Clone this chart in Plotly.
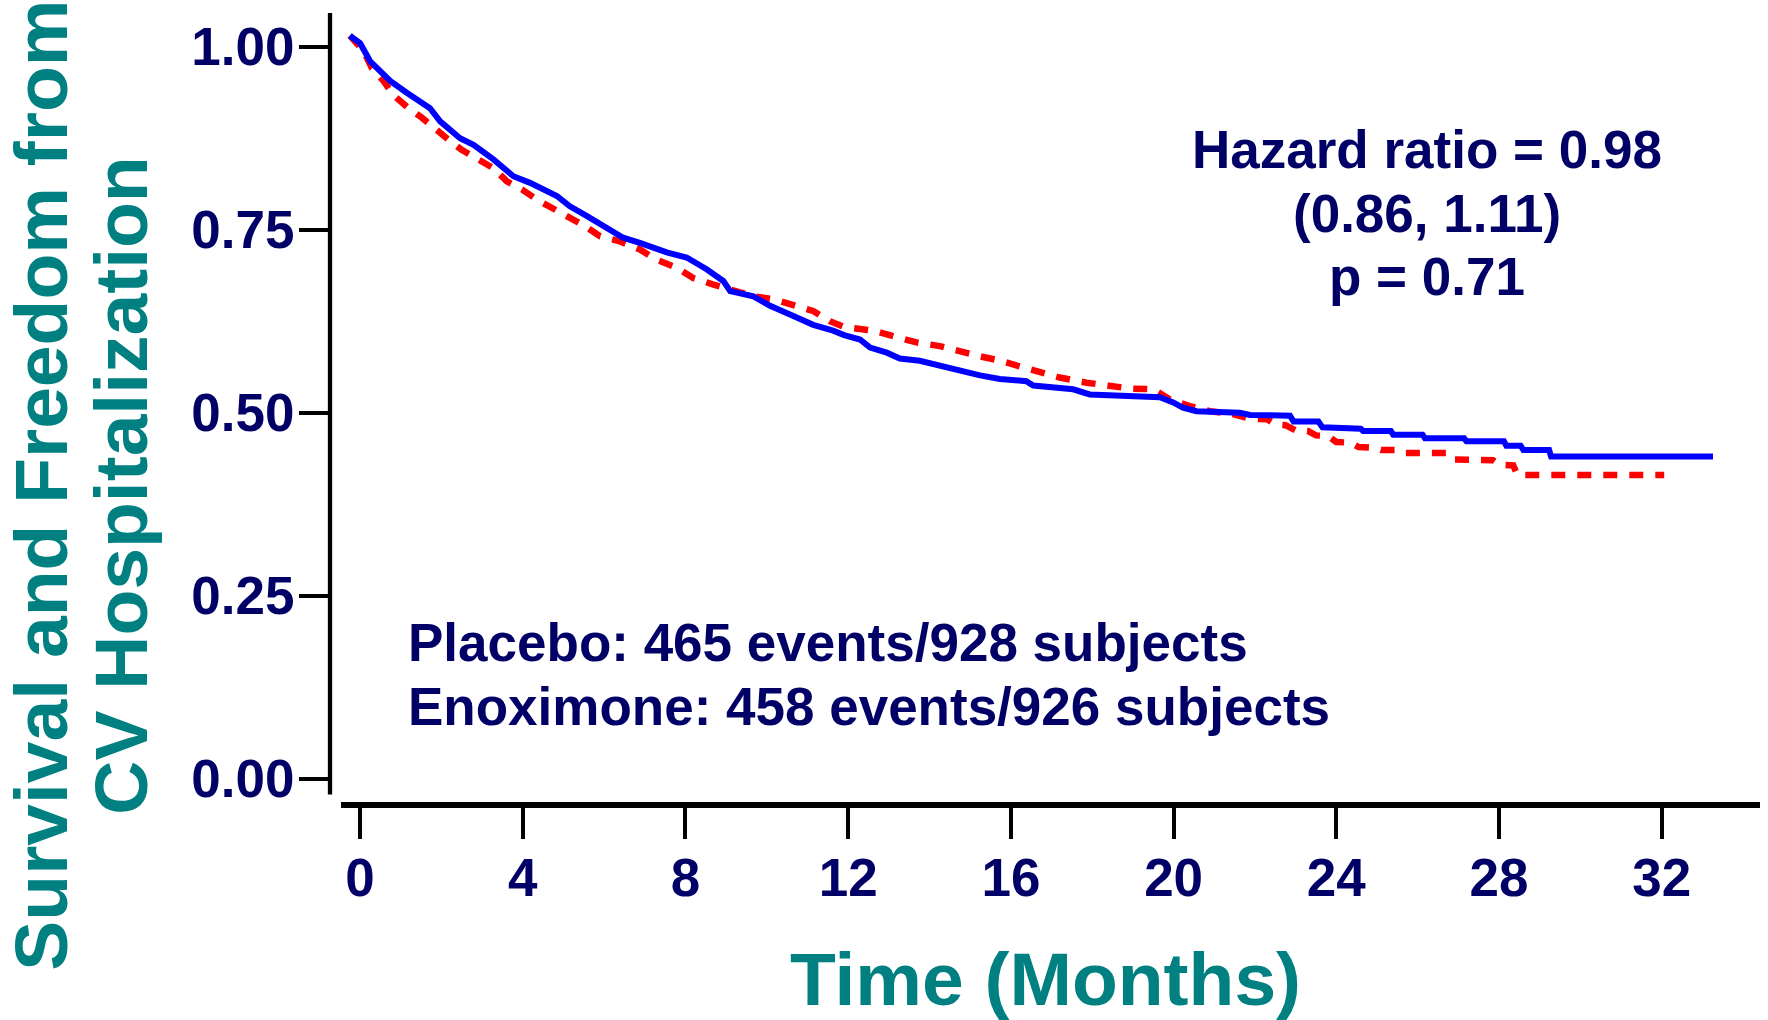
import plotly.graph_objects as go

# ---------------- data ----------------
enox_t = [-0.25, 0.0, 0.25, 0.75, 1.15, 1.72, 1.97, 2.46, 2.79, 3.28, 3.77, 4.18, 4.84, 5.16,
          5.57, 6.07, 6.47, 6.88, 7.54, 8.03, 8.52, 8.93, 9.10, 9.67, 10.08, 10.57, 11.14,
          11.63, 11.90, 12.29, 12.54, 12.95, 13.27, 13.76, 14.25, 14.67, 15.24, 15.73, 16.38,
          16.55, 17.53, 17.94, 18.92, 19.66, 19.99, 20.23, 20.56, 21.63, 21.88, 22.86, 22.95,
          23.56, 23.66, 24.02, 24.08, 24.60, 24.66, 25.34, 25.40, 26.12, 26.18, 27.14, 27.20,
          28.12, 28.18, 28.53, 28.60, 29.23, 29.28, 33.26]
enox_s = [1.015, 1.005, 0.980, 0.953, 0.937, 0.916, 0.898, 0.875, 0.866, 0.846, 0.823, 0.814,
          0.796, 0.782, 0.769, 0.753, 0.739, 0.732, 0.719, 0.712, 0.696, 0.680, 0.666, 0.659,
          0.646, 0.634, 0.620, 0.612, 0.606, 0.600, 0.589, 0.582, 0.574, 0.571, 0.564, 0.558,
          0.551, 0.546, 0.543, 0.537, 0.532, 0.525, 0.522, 0.521, 0.514, 0.507, 0.502, 0.500,
          0.497, 0.496, 0.488, 0.488, 0.480, 0.480, 0.478, 0.478, 0.475, 0.475, 0.470, 0.470,
          0.465, 0.465, 0.461, 0.461, 0.455, 0.455, 0.449, 0.449, 0.440, 0.440]

plac_t = [-0.25, 0.09, 0.29, 0.58, 0.82, 1.19, 1.52, 1.85, 2.13, 2.50, 2.87, 3.28, 3.61, 3.98,
          4.35, 4.71, 5.16, 5.53, 5.90, 6.39, 6.88, 7.29, 7.79, 8.19, 8.69, 9.18, 9.67, 10.16,
          10.65, 11.14, 11.55, 11.90, 12.62, 13.19, 13.68, 14.25, 14.74, 15.24, 15.73, 16.22,
          16.79, 17.20, 17.86, 18.35, 18.92, 19.50, 19.91, 20.40, 20.89, 21.46, 21.88, 22.30,
          22.50, 22.75, 23.00, 23.30, 23.50, 23.80, 24.00, 24.35, 24.55, 24.95, 25.10, 25.55,
          25.70, 26.70, 26.85, 27.85, 28.00, 28.35, 28.45, 32.06]
plac_s = [1.015, 0.994, 0.971, 0.953, 0.934, 0.916, 0.903, 0.887, 0.875, 0.859, 0.846, 0.834,
          0.816, 0.805, 0.791, 0.780, 0.768, 0.755, 0.741, 0.734, 0.723, 0.709, 0.698, 0.684,
          0.675, 0.666, 0.659, 0.655, 0.648, 0.639, 0.625, 0.617, 0.612, 0.603, 0.596, 0.591,
          0.583, 0.577, 0.571, 0.564, 0.555, 0.548, 0.541, 0.538, 0.533, 0.532, 0.518, 0.509,
          0.502, 0.498, 0.492, 0.491, 0.484, 0.483, 0.476, 0.475, 0.469, 0.468, 0.460, 0.459,
          0.453, 0.452, 0.449, 0.449, 0.445, 0.445, 0.436, 0.435, 0.429, 0.428, 0.415, 0.415]

x_ticks = [0, 4, 8, 12, 16, 20, 24, 28, 32]
y_ticks = [0.00, 0.25, 0.50, 0.75, 1.00]
y_tick_labels = ["0.00", "0.25", "0.50", "0.75", "1.00"]

hr_lines = ["Hazard ratio = 0.98", "(0.86, 1.11)", "p = 0.71"]
count_lines = ["Placebo: 465 events/928 subjects", "Enoximone: 458 events/926 subjects"]
y_title_lines = ["Survival and Freedom from", "CV Hospitalization"]
x_title = "Time (Months)"

# ---------------- layout geometry ----------------
W, H = 1768, 1020
L, R = 330, 1760          # plot area left / right (px)
T, B = 13, 805.5          # plot area top / bottom (px)
NAVY = "#000066"
TEAL = "#008080"
FONT = "Liberation Sans, Arial, sans-serif"


def px(xp):
    return (xp - L) / (R - L)


def py(yp):
    return (B - yp) / (B - T)


fig = go.Figure()
fig.add_trace(go.Scatter(x=plac_t, y=plac_s, mode="lines", name="Placebo",
                         line=dict(color="#FF0000", width=6.5, dash="14px,12px")))
fig.add_trace(go.Scatter(x=enox_t, y=enox_s, mode="lines", name="Enoximone",
                         line=dict(color="#0000FF", width=6)))

annotations = []
for i, t in enumerate(hr_lines):
    annotations.append(dict(text=t, x=px(1427), y=py(150 + 63.4 * i), xref="paper", yref="paper",
                            xanchor="center", yanchor="middle", showarrow=False,
                            font=dict(family=FONT, size=53, color=NAVY, weight="bold")))
for i, t in enumerate(count_lines):
    annotations.append(dict(text=t, x=px(406), y=py(643.3 + 63.3 * i), xref="paper", yref="paper",
                            xanchor="left", yanchor="middle", showarrow=False,
                            font=dict(family=FONT, size=53, color=NAVY, weight="bold")))
for i, t in enumerate(y_title_lines):
    annotations.append(dict(text=t, x=px(41 + 80 * i), y=py(486), xref="paper", yref="paper",
                            xanchor="center", yanchor="middle", showarrow=False, textangle=-90,
                            font=dict(family=FONT, size=75, color=TEAL, weight="bold")))
annotations.append(dict(text=x_title, x=px(1045), y=py(979.4), xref="paper", yref="paper",
                        xanchor="center", yanchor="middle", showarrow=False,
                        font=dict(family=FONT, size=75, color=TEAL, weight="bold")))

shapes = [
    dict(type="line", xref="paper", yref="paper", x0=0, x1=0, y0=py(795), y1=py(13),
         line=dict(color="black", width=4.3)),
    dict(type="line", xref="paper", yref="paper", x0=px(341), x1=px(1760), y0=0, y1=0,
         line=dict(color="black", width=6)),
]

fig.update_layout(
    width=W, height=H,
    margin=dict(l=L, r=W - R, t=T, b=H - B, pad=0),
    paper_bgcolor="white", plot_bgcolor="white",
    showlegend=False,
    annotations=annotations,
    shapes=shapes,
    xaxis=dict(range=[(L - 360) / 40.68, (R - 360) / 40.68], tickvals=x_ticks,
               ticktext=[str(v) for v in x_ticks], ticks="outside", ticklen=33, tickwidth=3.5,
               tickcolor="black", showline=False, showgrid=False, zeroline=False,
               ticklabelstandoff=-7,
               tickfont=dict(family=FONT, size=53, color=NAVY, weight="bold")),
    yaxis=dict(range=[(779.2 - B) / 732.5, (779.2 - T) / 732.5], tickvals=y_ticks,
               ticktext=y_tick_labels, ticks="outside", ticklen=30, tickwidth=4,
               tickcolor="black", showline=False, showgrid=False, zeroline=False,
               ticklabelstandoff=-6,
               tickfont=dict(family=FONT, size=53, color=NAVY, weight="bold")),
)

fig.write_html("out.html")
